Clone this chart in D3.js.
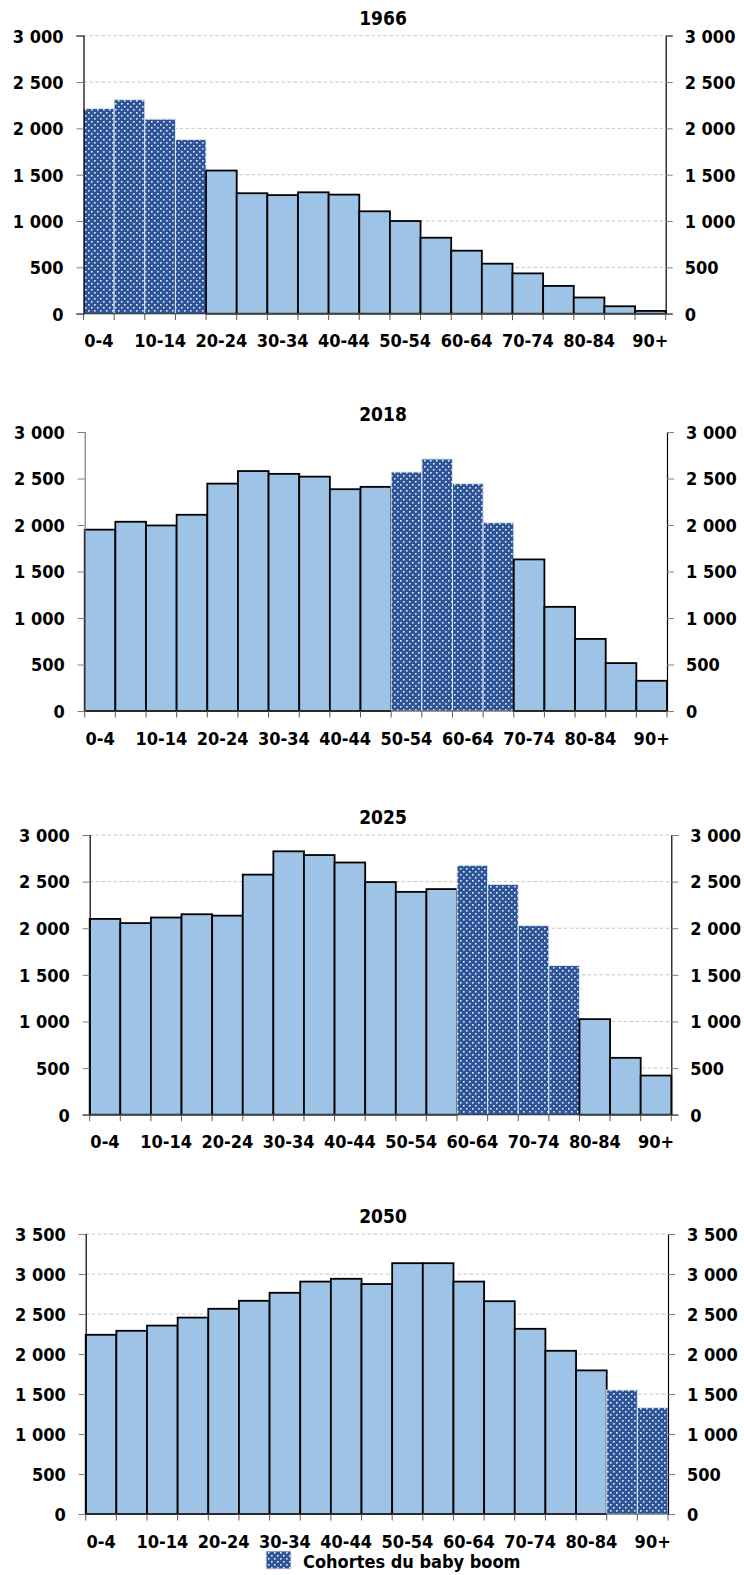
<!DOCTYPE html>
<html>
<head>
<meta charset="utf-8">
<script src="https://cdn.jsdelivr.net/npm/d3@7"></script>
<style>
  html, body { margin: 0; padding: 0; background: #fff; }
  svg text { font-family: "DejaVu Sans Condensed", "DejaVu Sans", sans-serif; font-stretch: condensed; font-weight: bold; fill: #000; }
</style>
</head>
<body>
<svg id="chart" width="744" height="1575"></svg>
<script>
// ---------- DATA ----------
const ageGroups = ["0-4","5-9","10-14","15-19","20-24","25-29","30-34","35-39","40-44","45-49",
                   "50-54","55-59","60-64","65-69","70-74","75-79","80-84","85-89","90+"];
const shownAgeLabels = ["0-4","10-14","20-24","30-34","40-44","50-54","60-64","70-74","80-84","90+"];

const values1966 = [2215, 2310, 2100, 1880, 1545, 1300, 1280, 1310, 1285, 1105, 1000, 820, 680, 540, 435, 300, 175, 80, 30];
const values2018 = [1950, 2035, 1995, 2110, 2445, 2580, 2550, 2520, 2385, 2410, 2570, 2710, 2445, 2025, 1630, 1120, 775, 515, 325];
const values2025 = [2100, 2055, 2115, 2150, 2135, 2575, 2825, 2785, 2705, 2495, 2390, 2420, 2675, 2470, 2030, 1600, 1025, 610, 420];
const values2050 = [2240, 2290, 2355, 2455, 2565, 2665, 2765, 2905, 2940, 2875, 3135, 3135, 2905, 2660, 2315, 2040, 1795, 1550, 1330];

const boom1966 = ["0-4","5-9","10-14","15-19"];
const boom2018 = ["50-54","55-59","60-64","65-69"];
const boom2025 = ["60-64","65-69","70-74","75-79"];
const boom2050 = ["85-89","90+"];

const ticks3000 = [0, 500, 1000, 1500, 2000, 2500, 3000];
const ticks3500 = [0, 500, 1000, 1500, 2000, 2500, 3000, 3500];

const titles = ["1966", "2018", "2025", "2050"];
const legendLabel = "Cohortes du baby boom";

// ---------- DRAW ----------
const svg = d3.select("#chart");
const locale = d3.formatLocale({decimal: ",", thousands: " ", grouping: [3], currency: ["", " €"]});
const fmt = locale.format(",d");

const defs = svg.append("defs");
const pat = defs.append("pattern").attr("id", "dots")
  .attr("patternUnits", "userSpaceOnUse").attr("width", 6).attr("height", 6);
pat.append("rect").attr("width", 6).attr("height", 6).attr("fill", "#2E5597");
pat.append("rect").attr("x", 1).attr("y", 1).attr("width", 1.6).attr("height", 1.6).attr("fill", "#e8eef8");
pat.append("rect").attr("x", 4).attr("y", 4).attr("width", 1.6).attr("height", 1.6).attr("fill", "#e8eef8");

const charts = [
  {title: titles[0], values: values1966, boom: boom1966, ticks: ticks3000, max: 3000, left: 83.5, right: 665.7, top: 35.7, zero: 313.7, grid: true, axisColor: "#000"},
  {title: titles[1], values: values2018, boom: boom2018, ticks: ticks3000, max: 3000, left: 84.7, right: 667, top: 432, zero: 711, grid: false, axisColor: "#7f7f7f"},
  {title: titles[2], values: values2025, boom: boom2025, ticks: ticks3000, max: 3000, left: 89.7, right: 671.3, top: 835, zero: 1114.7, grid: true, axisColor: "#000"},
  {title: titles[3], values: values2050, boom: boom2050, ticks: ticks3500, max: 3500, left: 85.7, right: 668, top: 1234, zero: 1514, grid: true, axisColor: "#000"}
];

charts.forEach(c => {
  const g = svg.append("g");
  const x = d3.scaleBand().domain(ageGroups).range([c.left, c.right]).padding(0);
  const y = d3.scaleLinear().domain([0, c.max]).range([c.zero, c.top]);

  // gridlines
  if (c.grid) {
    g.append("g").selectAll("line").data(c.ticks.filter(t => t > 0)).join("line")
      .attr("x1", c.left).attr("x2", c.right)
      .attr("y1", d => y(d)).attr("y2", d => y(d))
      .attr("stroke", "#c6c6c6").attr("stroke-width", 1).attr("stroke-dasharray", "3.5,2.5");
  }

  // bars
  const data = ageGroups.map((a, i) => ({age: a, v: c.values[i], boom: c.boom.includes(a)}));
  g.append("g").selectAll("rect").data(data).join("rect")
    .attr("x", d => x(d.age))
    .attr("y", d => y(d.v))
    .attr("width", x.bandwidth())
    .attr("height", d => c.zero - y(d.v))
    .attr("fill", d => d.boom ? "url(#dots)" : "#9DC3E6")
    .attr("stroke", d => d.boom ? "#dfe6f3" : "#000")
    .attr("stroke-width", d => d.boom ? 1 : 1.8);

  // left axis
  const yl = g.append("g").attr("transform", `translate(${c.left},0)`)
    .call(d3.axisLeft(y).tickValues(c.ticks).tickFormat(fmt).tickSize(7).tickPadding(13));
  yl.select(".domain").attr("stroke", c.axisColor).attr("stroke-width", 1.2);
  yl.selectAll(".tick line").attr("stroke", "#7f7f7f");
  yl.selectAll("text").style("font-size", "18px").attr("dy", "0.35em");

  // right axis
  const yr = g.append("g").attr("transform", `translate(${c.right},0)`)
    .call(d3.axisRight(y).tickValues(c.ticks).tickFormat(fmt).tickSize(7).tickPadding(12));
  yr.select(".domain").attr("stroke", "#000").attr("stroke-width", 1.2);
  yr.selectAll(".tick line").attr("stroke", "#7f7f7f");
  yr.selectAll("text").style("font-size", "18px").attr("dy", "0.35em");

  // x axis ticks at band boundaries
  const bounds = ageGroups.map(a => x(a)).concat([c.right]);
  g.append("line").attr("x1", c.left).attr("x2", c.right).attr("y1", c.zero).attr("y2", c.zero)
    .attr("stroke", "#404040").attr("stroke-width", 1.2);
  g.append("g").selectAll("line").data(bounds).join("line")
    .attr("x1", d => d).attr("x2", d => d).attr("y1", c.zero).attr("y2", c.zero + 6.5)
    .attr("stroke", "#595959").attr("stroke-width", 1);

  // x labels
  g.append("g").selectAll("text").data(shownAgeLabels).join("text")
    .attr("x", d => x(d) + x.bandwidth() / 2)
    .attr("y", c.zero + 27)
    .attr("text-anchor", "middle").attr("dominant-baseline", "central")
    .style("font-size", "18px").text(d => d);

  // title
  g.append("text").attr("x", 383).attr("y", c.top - 18)
    .attr("text-anchor", "middle").attr("dominant-baseline", "central")
    .style("font-size", "19px").text(c.title);
});

// legend
const lg = svg.append("g");
lg.append("rect").attr("x", 266).attr("y", 1551).attr("width", 25).attr("height", 18)
  .attr("fill", "url(#dots)").attr("stroke", "#dfe6f3").attr("stroke-width", 1);
lg.append("text").attr("x", 303).attr("y", 1561).attr("dominant-baseline", "central")
  .style("font-size", "18px").text(legendLabel);
</script>
</body>
</html>
